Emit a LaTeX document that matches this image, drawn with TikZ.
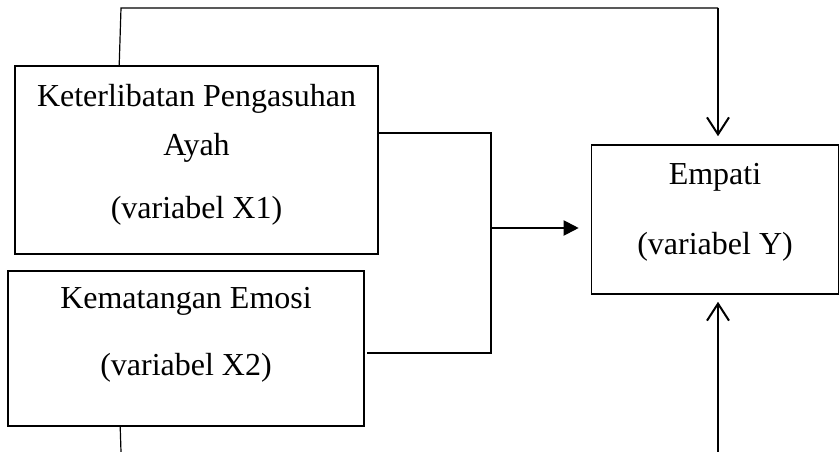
\documentclass[tikz,border=0pt]{standalone}
\usepackage{fontspec}
\setmainfont{Liberation Serif}
\usetikzlibrary{arrows.meta}
\begin{document}
\begin{tikzpicture}[x=1pt,y=-1pt,
  box/.style={draw, line width=1.6pt, rectangle, inner sep=0pt},
  txt/.style={anchor=base, inner sep=0pt, font=\fontsize{32}{38}\selectfont},
  conn/.style={line width=1.2pt},
  openarrow/.style={line width=2pt, -{Straight Barb[length=17pt,width=22pt]}},
  fillarrow/.style={line width=2pt, -{Triangle[length=15pt,width=15pt]}}]
\useasboundingbox (0,0) rectangle (840,452);
\node[box, minimum width=363pt, minimum height=188pt] (b1) at (196.5,160) {};
\node[box, minimum width=356pt, minimum height=155pt] (b2) at (186,348.5) {};
\node[box, minimum width=247pt, minimum height=149pt] (b3) at (715,219.5) {};
\node[txt] (t1a) at (196.5,106) {Keterlibatan Pengasuhan};
\node[txt] (t1b) at (196.5,155) {Ayah};
\node[txt] (t1c) at (196.5,218) {(variabel X1)};
\node[txt] (t2a) at (186,308) {Kematangan Emosi};
\node[txt] (t2b) at (186,375) {(variabel X2)};
\node[txt] (t3a) at (715,184) {Empati};
\node[txt] (t3b) at (715,254) {(variabel Y)};
\coordinate (top1) at (121,8);
\coordinate (top2) at (718,8);
\coordinate (j1) at (491,133);
\coordinate (j2) at (491,353);
\coordinate (jm) at (491,228);
\coordinate (bot1) at (121,452);
\coordinate (bot2) at (718,452);
\draw[conn] ([xshift=105pt]b1.north west) -- (top1) -- (top2);
\draw[openarrow] (top2) -- ([xshift=3pt,yshift=8pt]b3.north);
\draw[conn] ([yshift=27pt]b1.east) -- (j1) -- (j2) -- ([xshift=2pt,yshift=-4.5pt]b2.east);
\draw[fillarrow] (jm) -- ([xshift=-12pt,yshift=-8.5pt]b3.west);
\draw[conn] ([xshift=113pt]b2.south west) -- (bot1);
\draw[openarrow] (bot2) -- ([xshift=3pt,yshift=-7pt]b3.south);
\end{tikzpicture}
\end{document}
